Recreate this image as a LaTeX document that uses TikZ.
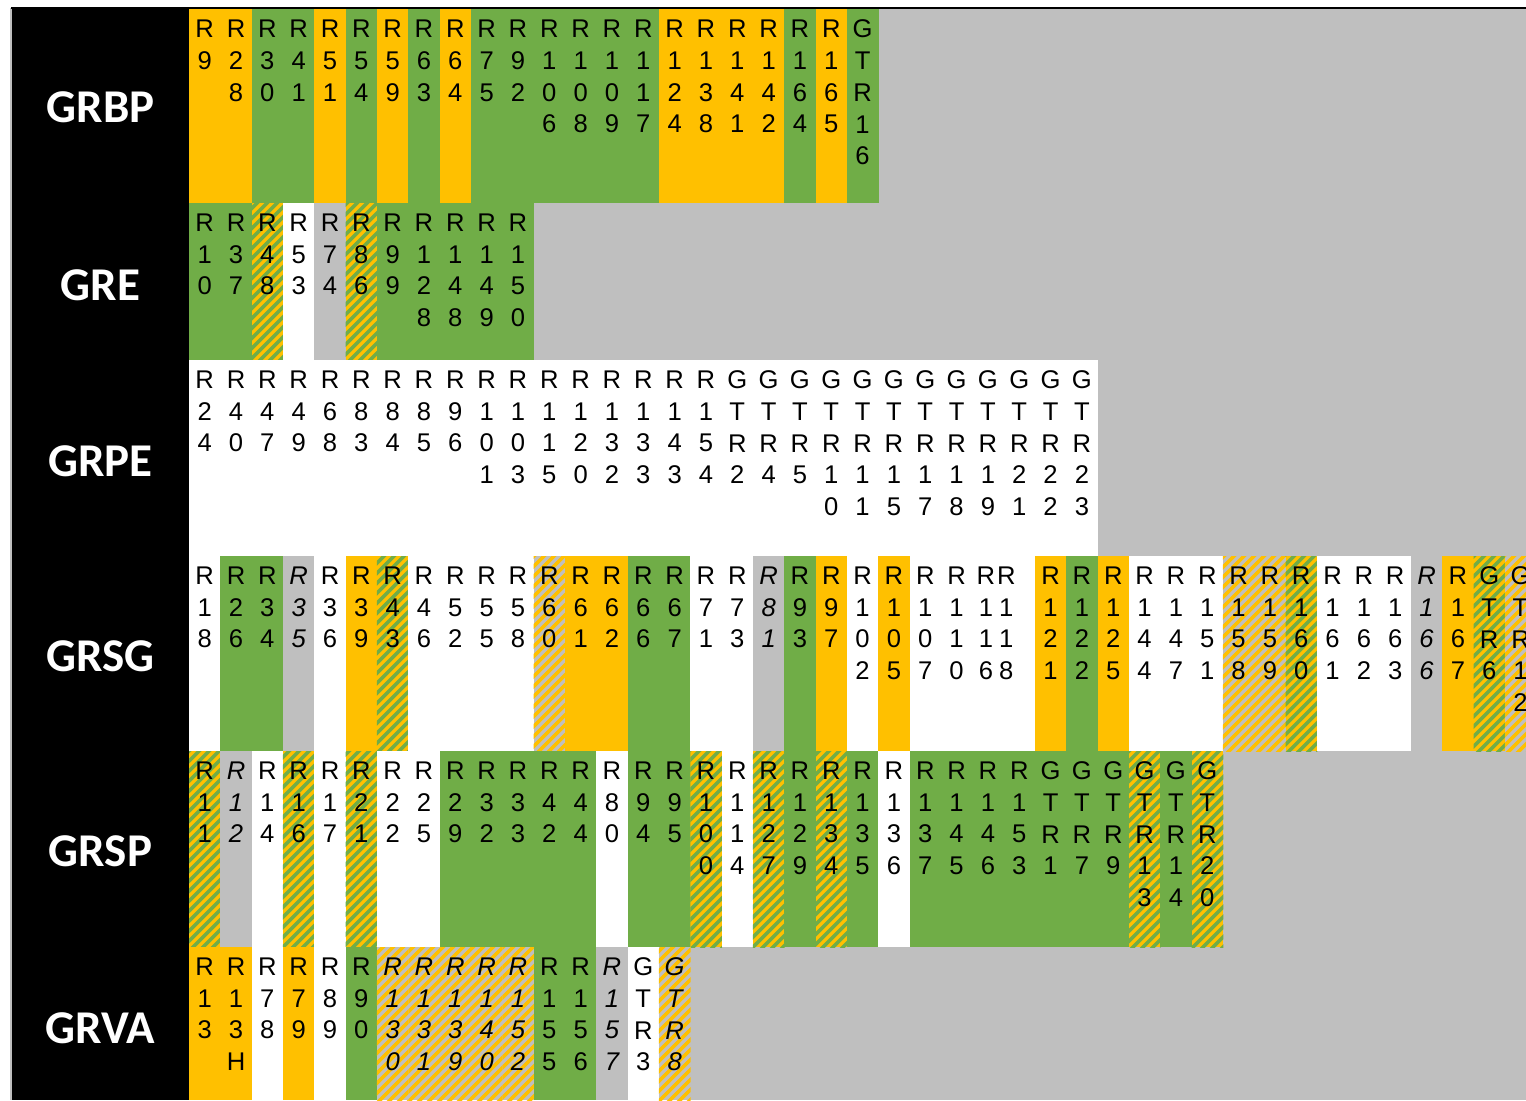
\documentclass[tikz,border=0pt]{standalone}
\usepackage{fontspec}
\setmainfont{Liberation Sans}
\newfontfamily\labfam{Carlito}
\definecolor{cY}{HTML}{FFC000}
\definecolor{cG}{HTML}{70AD47}
\definecolor{cGr}{HTML}{BFBFBF}
\newcommand\cellfont{\fontsize{12.8}{15.85}\selectfont}
\newcommand\labfont{\labfam\bfseries\fontsize{23.5}{28}\selectfont}
% vertical stack of characters, one per line
\def\vst#1{\vbox{\baselineskip=15.85pt\lineskiplimit=-100pt\lineskip=0pt\vstA#1\relax}}
\def\vstA#1#2\relax{\hbox to 0pt{\hss#1\hss}\ifx\relax#2\relax\else\expandafter\vstA\fi#2\relax}
\newcommand\rowtop[1]{\ifcase#1 9.3\or 203\or 360\or 556\or 751\or 947\or 1100\fi}
\newcommand\hatchbox[6]{%
 \begin{scope}
 \clip (#1,#2) rectangle (#3,#4);
 \fill[#5] (#1,#2) rectangle (#3,#4);
 \pgfmathtruncatemacro\hka{(#1+#2)/10-1}
 \pgfmathtruncatemacro\hkb{(#3+#4)/10+1}
 \foreach \k in {\hka,...,\hkb}{\draw[#6,line width=1.77pt] ({10*\k-#4-5},{#4+5}) -- ({10*\k-#2+5},{#2-5});}
 \end{scope}}
\newcommand\cfY[4]{\fill[cY] (#1,#2) rectangle (#3,#4);}
\newcommand\cfG[4]{\fill[cG] (#1,#2) rectangle (#3,#4);}
\newcommand\cfGr[4]{\fill[cGr] (#1,#2) rectangle (#3,#4);}
\newcommand\cfW[4]{\fill[white] (#1,#2) rectangle (#3,#4);}
\newcommand\cfHYG[4]{\hatchbox{#1}{#2}{#3}{#4}{cY}{cG}}
\newcommand\cfHYGr[4]{\hatchbox{#1}{#2}{#3}{#4}{cGr}{cY}}
\newcommand\cell[5]{%
 \pgfmathsetmacro\xa{189+31.33*#2}%
 \pgfmathsetmacro\xb{\xa+31.73}%
 \edef\ya{\rowtop{#1}}%
 \edef\yb{\rowtop{\numexpr#1+1\relax}}%
 \csname cf#3\endcsname{\xa}{\ya}{\xb}{\yb}%
 \pgfmathsetmacro\dx{(#1==3)*((#2==25)*(-2)+(#2==26)*(-13))}%
 \edef\celllabel{#5}%
 \node[cellt] (c-#1-#2) at ({\xa+15.67+\dx},{\ya+10.8}) {\if i#4\itshape\fi\expandafter\vst\expandafter{\celllabel}};%
}
\begin{document}
\begin{tikzpicture}[x=0.5pt,y=-0.5pt,
  cellt/.style={anchor=north,inner sep=0pt,outer sep=0pt,font=\cellfont,text=black},
  rowlab/.style={inner sep=0pt,text=white,font=\labfont}]
\useasboundingbox (0,0) rectangle (1526,1100);
\clip (0,0) rectangle (1526,1100);
\fill[white] (0,0) rectangle (1526,1100);
\fill[cGr] (189,9) rectangle (1526,1100);
\fill[cGr] (10,8) rectangle (12,1100);
\fill[black] (11.5,8) rectangle (189,1100);
\fill[black] (11,7.3) rectangle (1526,9.3);
% GRBP
\foreach \f/\s/\l [count=\c from 0] in {Y/n/R9,Y/n/R28,G/n/R30,G/n/R41,Y/n/R51,G/n/R54,Y/n/R59,G/n/R63,Y/n/R64,G/n/R75,G/n/R92,G/n/R106,G/n/R108,G/n/R109,G/n/R117,Y/n/R124,Y/n/R138,Y/n/R141,Y/n/R142,G/n/R164,Y/n/R165,G/n/GTR16}{\cell{0}{\c}{\f}{\s}{\l}}
% GRE
\foreach \f/\s/\l [count=\c from 0] in {G/n/R10,G/n/R37,HYG/n/R48,W/n/R53,Gr/n/R74,HYG/n/R86,G/n/R99,G/n/R128,G/n/R148,G/n/R149,G/n/R150}{\cell{1}{\c}{\f}{\s}{\l}}
% GRPE
\foreach \f/\s/\l [count=\c from 0] in {W/n/R24,W/n/R40,W/n/R47,W/n/R49,W/n/R68,W/n/R83,W/n/R84,W/n/R85,W/n/R96,W/n/R101,W/n/R103,W/n/R115,W/n/R120,W/n/R132,W/n/R133,W/n/R143,W/n/R154,W/n/GTR2,W/n/GTR4,W/n/GTR5,W/n/GTR10,W/n/GTR11,W/n/GTR15,W/n/GTR17,W/n/GTR18,W/n/GTR19,W/n/GTR21,W/n/GTR22,W/n/GTR23}{\cell{2}{\c}{\f}{\s}{\l}}
% GRSG
\foreach \f/\s/\l [count=\c from 0] in {W/n/R18,G/n/R26,G/n/R34,Gr/i/R35,W/n/R36,Y/n/R39,HYG/n/R43,W/n/R46,W/n/R52,W/n/R55,W/n/R58,HYGr/n/R60,Y/n/R61,Y/n/R62,G/n/R66,G/n/R67,W/n/R71,W/n/R73,Gr/i/R81,G/n/R93,Y/n/R97,W/n/R102,Y/n/R105,W/n/R107,W/n/R110,W/n/R116,W/n/R118,Y/n/R121,G/n/R122,Y/n/R125,W/n/R144,W/n/R147,W/n/R151,HYGr/n/R158,HYGr/n/R159,HYG/n/R160,W/n/R161,W/n/R162,W/n/R163,Gr/i/R166,Y/n/R167,HYG/n/GTR6,HYGr/n/GTR12}{\cell{3}{\c}{\f}{\s}{\l}}
% GRSP
\foreach \f/\s/\l [count=\c from 0] in {HYG/n/R11,Gr/i/R12,W/n/R14,HYG/n/R16,W/n/R17,HYG/n/R21,W/n/R22,W/n/R25,G/n/R29,G/n/R32,G/n/R33,G/n/R42,G/n/R44,W/n/R80,G/n/R94,G/n/R95,HYG/n/R100,W/n/R114,HYG/n/R127,G/n/R129,HYG/n/R134,G/n/R135,W/n/R136,G/n/R137,G/n/R145,G/n/R146,G/n/R153,G/n/GTR1,G/n/GTR7,G/n/GTR9,HYG/n/GTR13,G/n/GTR14,HYG/n/GTR20}{\cell{4}{\c}{\f}{\s}{\l}}
% GRVA
\foreach \f/\s/\l [count=\c from 0] in {Y/n/R13,Y/n/R13H,W/n/R78,Y/n/R79,W/n/R89,G/n/R90,HYGr/i/R130,HYGr/i/R131,HYGr/i/R139,HYGr/i/R140,HYGr/i/R152,G/n/R155,G/n/R156,Gr/i/R157,W/n/GTR3,HYGr/i/GTR8}{\cell{5}{\c}{\f}{\s}{\l}}
% row labels
\node[rowlab] (lab-GRBP) at (100.5,107) {GRBP};
\node[rowlab] (lab-GRE) at (100.5,285) {GRE};
\node[rowlab] (lab-GRPE) at (100.5,461) {GRPE};
\node[rowlab] (lab-GRSG) at (100.5,656) {GRSG};
\node[rowlab] (lab-GRSP) at (100.5,851) {GRSP};
\node[rowlab] (lab-GRVA) at (100.5,1028) {GRVA};
\end{tikzpicture}
\end{document}
